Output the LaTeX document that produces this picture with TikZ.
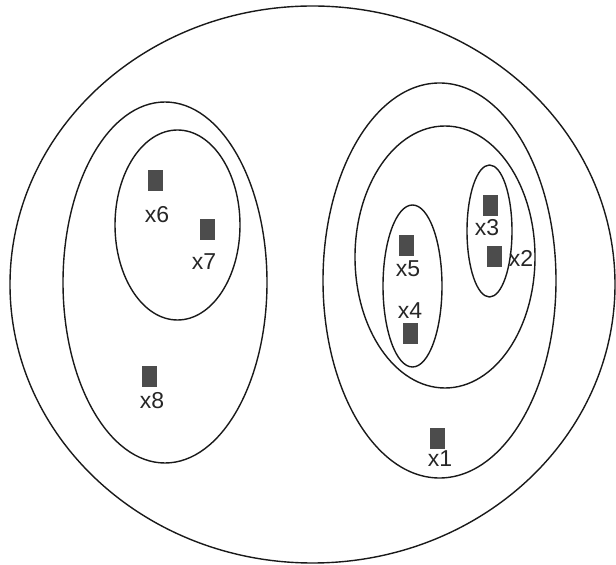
\documentclass[tikz,border=0pt]{standalone}
\usepackage{fontspec}
\setmainfont{Liberation Sans}
\usetikzlibrary{shapes.geometric}
\begin{document}
\begin{tikzpicture}[x=1pt,y=1pt,
  set/.style={draw=black!90,line width=1.4pt,ellipse,inner sep=0pt},
  pt/.style={fill=black!70,draw=none,minimum width=15pt,minimum height=21pt,inner sep=0pt},
  lab/.style={font=\fontsize{23}{23}\selectfont,text=black!85,inner sep=0pt}]
\useasboundingbox (0,0) rectangle (616,565);
% sets (y = 565 - image y)
\node[set,minimum width=605pt,minimum height=557pt] (outer) at (312.5,280.5) {};
\node[set,minimum width=204pt,minimum height=361pt] (L) at (165,282.5) {};
\node[set,minimum width=125pt,minimum height=190pt] (L1) at (177.5,340) {};
\node[set,minimum width=233pt,minimum height=395pt] (R) at (439.5,284.5) {};
\node[set,minimum width=180pt,minimum height=262pt] (R1) at (445,308) {};
\node[set,minimum width=59pt,minimum height=162pt] (R45) at (412.5,279) {};
\node[set,minimum width=45pt,minimum height=132pt] (R23) at (489.5,334) {};
% points
\node[pt] (p6) at (155,384) {};
\node[lab] (l6) at (157,350) {x6};
\node[pt] (p7) at (207,335) {};
\node[lab] (l7) at (204,303) {x7};
\node[pt] (p8) at (149,188) {};
\node[lab] (l8) at (152,164) {x8};
\node[pt] (p5) at (406,319) {};
\node[lab] (l5) at (408,296) {x5};
\node[pt] (p4) at (410,231) {};
\node[lab] (l4) at (410,254) {x4};
\node[pt] (p3) at (490,359) {};
\node[lab] (l3) at (487,337) {x3};
\node[pt] (p2) at (494,308) {};
\node[lab] (l2) at (521,307) {x2};
\node[pt] (p1) at (437,126) {};
\node[lab] (l1) at (440,106) {x1};
\end{tikzpicture}
\end{document}
